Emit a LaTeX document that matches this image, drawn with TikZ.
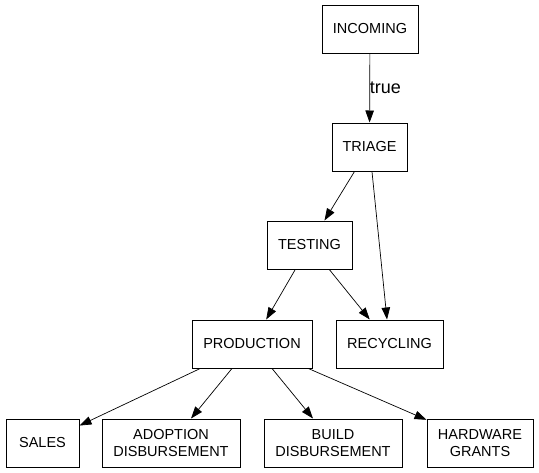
\documentclass[tikz,border=0pt]{standalone}
\usepackage{fontspec}
\setmainfont{Liberation Sans}
\usetikzlibrary{arrows.meta}

\tikzset{
	stage/.style={draw, line width=1pt, rectangle, minimum height=48pt, inner sep=0pt, align=center, font=\fontsize{14.5}{16.5}\selectfont},
	flow/.style={line width=0.7pt, -{Triangle[length=12pt, width=8.5pt]}}
}

\begin{document}
\begin{tikzpicture}[x=1pt,y=-1pt]
				\useasboundingbox (0,0) rectangle (539,472);
				\node[stage, minimum width=96pt]  (incoming)   at (370,29)    {INCOMING};
				\node[stage, minimum width=75pt]  (triage)     at (369.5,147) {TRIAGE};
				\node[stage, minimum width=85pt]  (testing)    at (309.5,245) {TESTING};
				\node[stage, minimum width=120pt] (production) at (252,344)   {PRODUCTION};
				\node[stage, minimum width=107pt] (recycling)  at (389.5,344) {RECYCLING};
				\node[stage, minimum width=73pt]  (sales)      at (42.5,443)  {SALES};
				\node[stage, minimum width=138pt] (adoption)   at (171,443)   {ADOPTION\\DISBURSEMENT};
				\node[stage, minimum width=138pt] (build)      at (333,443)   {BUILD\\DISBURSEMENT};
				\node[stage, minimum width=106pt] (hardware)   at (480,443)   {HARDWARE\\GRANTS};
				\draw[flow] (incoming) -- (triage);
				\node[font=\fontsize{18}{18}\selectfont] (truelabel) at (385.5,88) {true};
				\draw[flow] (triage) -- (testing);
				\draw[flow] (triage) -- (recycling);
				\draw[flow] (testing) -- (production);
				\draw[flow] (testing) -- (recycling);
				\draw[flow] (production) -- (sales);
				\draw[flow] (production) -- (adoption);
				\draw[flow] (production) -- (build);
				\draw[flow] (production) -- (hardware);
			\end{tikzpicture}
\end{document}
